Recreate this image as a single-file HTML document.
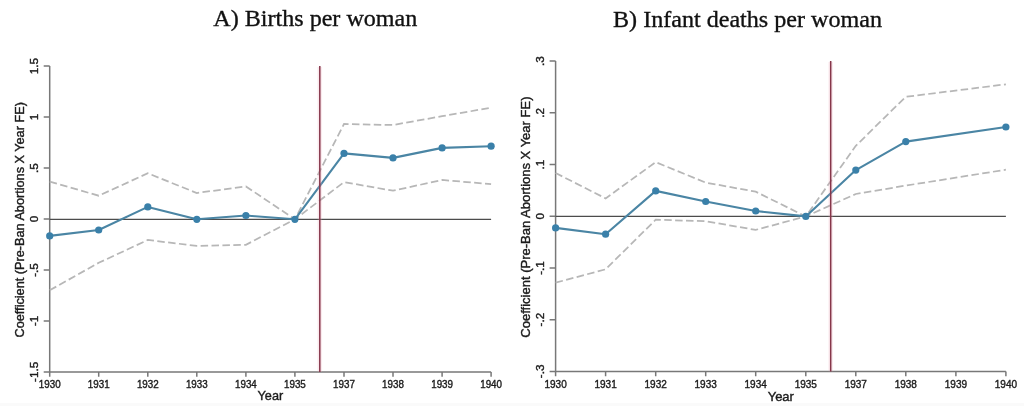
<!DOCTYPE html>
<html><head><meta charset="utf-8">
<title>Event study: births and infant deaths per woman</title>
<style>
html,body{margin:0;padding:0;background:#fff;}
body{width:1024px;height:406px;overflow:hidden;}
svg{display:block;}
text{font-family:"Liberation Sans",sans-serif;fill:#1c1c1c;stroke:#1c1c1c;stroke-width:0.4;}
.t{font-family:"Liberation Serif",serif;font-size:24.1px;fill:#111;stroke:#111;stroke-width:0.35;}
.ax{stroke:#787878;stroke-width:1.5;fill:none;}
.ci{stroke:#b7b7b7;stroke-width:1.75;fill:none;stroke-dasharray:7.5 3.4;}
.ln{stroke:#4a85a4;stroke-width:2.1;fill:none;stroke-linejoin:round;}
.pt{fill:#3a80a9;}
.red{stroke:#86364a;stroke-width:1.5;}
.halo{stroke:#e8a0b0;stroke-opacity:0.22;stroke-width:4.5;}
.zero{stroke:#4c4c4c;stroke-width:1.3;}
.tk{font-size:10.6px;stroke-width:0.3;}
.tky{font-size:11.7px;stroke-width:0.3;}
.lb{font-size:12.7px;}
</style></head><body>
<svg width="1024" height="406" viewBox="0 0 1024 406" style="filter:blur(0.35px)">
<rect width="1024" height="406" fill="#fff"/>
<rect x="0" y="403" width="1024" height="3" fill="#fafafa"/>
<g id="A">
<text class="t" x="315.3" y="26.3" text-anchor="middle">A) Births per woman</text>
<path class="ax" d="M49.7 66.1V371.9H491.1"/>
<path class="ax" d="M43.7 66.1H49.7M43.7 117.1H49.7M43.7 168.0H49.7M43.7 219.0H49.7M43.7 270.0H49.7M43.7 320.9H49.7M43.7 371.9H49.7"/>
<path class="ax" d="M49.7 371.9v4.8M98.7 371.9v4.8M147.8 371.9v4.8M196.8 371.9v4.8M245.9 371.9v4.8M294.9 371.9v4.8M344.0 371.9v4.8M393.0 371.9v4.8M442.1 371.9v4.8M491.1 371.9v4.8"/>
<polyline class="ci" points="49.7,181.6 98.7,195.7 147.8,173.3 196.8,193.0 245.9,186.4 294.9,219.3 344.0,124.0 393.0,125.0 442.1,116.2 491.1,107.7"/>
<polyline class="ci" points="49.7,290.3 98.7,262.8 147.8,240.0 196.8,245.9 245.9,244.8 294.9,219.3 344.0,182.1 393.0,190.7 442.1,180.0 491.1,184.1"/>
<line class="zero" x1="49.7" y1="219.3" x2="491.1" y2="219.3"/>
<polyline class="ln" points="49.7,235.9 98.7,230.0 147.8,206.9 196.8,219.3 245.9,215.5 294.9,219.3 344.0,153.4 393.0,157.9 442.1,147.9 491.1,146.2"/>
<g class="pt"><circle cx="49.7" cy="235.9" r="3.6"/><circle cx="98.7" cy="230.0" r="3.6"/><circle cx="147.8" cy="206.9" r="3.6"/><circle cx="196.8" cy="219.3" r="3.6"/><circle cx="245.9" cy="215.5" r="3.6"/><circle cx="294.9" cy="219.3" r="3.6"/><circle cx="344.0" cy="153.4" r="3.6"/><circle cx="393.0" cy="157.9" r="3.6"/><circle cx="442.1" cy="147.9" r="3.6"/><circle cx="491.1" cy="146.2" r="3.6"/></g>
<line class="halo" x1="319.8" y1="67.1" x2="319.8" y2="371.9"/>
<line class="red" x1="319.8" y1="66.1" x2="319.8" y2="371.9"/>
<g class="tk" style="font-size:10.6px" text-anchor="middle"><text x="49.7" y="388" textLength="21.8" lengthAdjust="spacingAndGlyphs">1930</text><text x="98.7" y="388" textLength="21.8" lengthAdjust="spacingAndGlyphs">1931</text><text x="147.8" y="388" textLength="21.8" lengthAdjust="spacingAndGlyphs">1932</text><text x="196.8" y="388" textLength="21.8" lengthAdjust="spacingAndGlyphs">1933</text><text x="245.9" y="388" textLength="21.8" lengthAdjust="spacingAndGlyphs">1934</text><text x="294.9" y="388" textLength="21.8" lengthAdjust="spacingAndGlyphs">1935</text><text x="344.0" y="388" textLength="21.8" lengthAdjust="spacingAndGlyphs">1937</text><text x="393.0" y="388" textLength="21.8" lengthAdjust="spacingAndGlyphs">1938</text><text x="442.1" y="388" textLength="21.8" lengthAdjust="spacingAndGlyphs">1939</text><text x="491.1" y="388" textLength="21.8" lengthAdjust="spacingAndGlyphs">1940</text></g>
<text class="lb" style="font-size:12.7px" x="270.4" y="400.4" text-anchor="middle">Year</text>
<g class="tky" text-anchor="middle"><text transform="translate(38.0,66.1) rotate(-90)">1.5</text><text transform="translate(38.0,117.1) rotate(-90)">1</text><text transform="translate(38.0,168.0) rotate(-90)">.5</text><text transform="translate(38.0,219.0) rotate(-90)">0</text><text transform="translate(38.0,270.0) rotate(-90)">-.5</text><text transform="translate(38.0,320.9) rotate(-90)">-1</text><text transform="translate(38.0,371.9) rotate(-90)">-1.5</text></g>
<text class="lb" style="font-size:12.7px" transform="translate(24.3,219.8) rotate(-90)" text-anchor="middle">Coefficient (Pre-Ban Abortions X Year FE)</text>
</g>
<g id="B">
<text class="t" x="747.5" y="26.8" text-anchor="middle">B) Infant deaths per woman</text>
<path class="ax" d="M555.6 61.1V371.4H1005.9"/>
<path class="ax" d="M549.6 61.1H555.6M549.6 112.8H555.6M549.6 164.5H555.6M549.6 216.2H555.6M549.6 268.0H555.6M549.6 319.7H555.6M549.6 371.4H555.6"/>
<path class="ax" d="M555.6 371.4v4.8M605.6 371.4v4.8M655.7 371.4v4.8M705.7 371.4v4.8M755.7 371.4v4.8M805.8 371.4v4.8M855.8 371.4v4.8M905.8 371.4v4.8M955.9 371.4v4.8M1005.9 371.4v4.8"/>
<polyline class="ci" points="555.6,173.0 605.6,198.4 655.7,162.1 705.7,182.6 755.7,191.7 805.8,216.4 855.8,145.8 905.8,96.8 1005.9,84.3"/>
<polyline class="ci" points="555.6,282.7 605.6,269.3 655.7,219.7 705.7,221.2 755.7,229.9 805.8,216.4 855.8,194.0 905.8,185.6 1005.9,169.7"/>
<line class="zero" x1="555.6" y1="216.4" x2="1005.9" y2="216.4"/>
<polyline class="ln" points="555.6,227.9 605.6,234.2 655.7,190.9 705.7,201.5 755.7,211.0 805.8,216.4 855.8,170.1 905.8,141.6 1005.9,127.0"/>
<g class="pt"><circle cx="555.6" cy="227.9" r="3.6"/><circle cx="605.6" cy="234.2" r="3.6"/><circle cx="655.7" cy="190.9" r="3.6"/><circle cx="705.7" cy="201.5" r="3.6"/><circle cx="755.7" cy="211.0" r="3.6"/><circle cx="805.8" cy="216.4" r="3.6"/><circle cx="855.8" cy="170.1" r="3.6"/><circle cx="905.8" cy="141.6" r="3.6"/><circle cx="1005.9" cy="127.0" r="3.6"/></g>
<line class="halo" x1="830.7" y1="62.1" x2="830.7" y2="371.4"/>
<line class="red" x1="830.7" y1="61.1" x2="830.7" y2="371.4"/>
<g class="tk" style="font-size:10.8px" text-anchor="middle"><text x="555.6" y="388" textLength="22.3" lengthAdjust="spacingAndGlyphs">1930</text><text x="605.6" y="388" textLength="22.3" lengthAdjust="spacingAndGlyphs">1931</text><text x="655.7" y="388" textLength="22.3" lengthAdjust="spacingAndGlyphs">1932</text><text x="705.7" y="388" textLength="22.3" lengthAdjust="spacingAndGlyphs">1933</text><text x="755.7" y="388" textLength="22.3" lengthAdjust="spacingAndGlyphs">1934</text><text x="805.8" y="388" textLength="22.3" lengthAdjust="spacingAndGlyphs">1935</text><text x="855.8" y="388" textLength="22.3" lengthAdjust="spacingAndGlyphs">1937</text><text x="905.8" y="388" textLength="22.3" lengthAdjust="spacingAndGlyphs">1938</text><text x="955.9" y="388" textLength="22.3" lengthAdjust="spacingAndGlyphs">1939</text><text x="1005.9" y="388" textLength="22.3" lengthAdjust="spacingAndGlyphs">1940</text></g>
<text class="lb" style="font-size:13.0px" x="780.8" y="401.1" text-anchor="middle">Year</text>
<g class="tky" text-anchor="middle"><text transform="translate(544.4,61.1) rotate(-90)">.3</text><text transform="translate(544.4,112.8) rotate(-90)">.2</text><text transform="translate(544.4,164.5) rotate(-90)">.1</text><text transform="translate(544.4,216.2) rotate(-90)">0</text><text transform="translate(544.4,268.0) rotate(-90)">-.1</text><text transform="translate(544.4,319.7) rotate(-90)">-.2</text><text transform="translate(544.4,371.4) rotate(-90)">-.3</text></g>
<text class="lb" style="font-size:13.0px" transform="translate(530.0,217.1) rotate(-90)" text-anchor="middle">Coefficient (Pre-Ban Abortions X Year FE)</text>
</g>
</svg>
</body></html>
